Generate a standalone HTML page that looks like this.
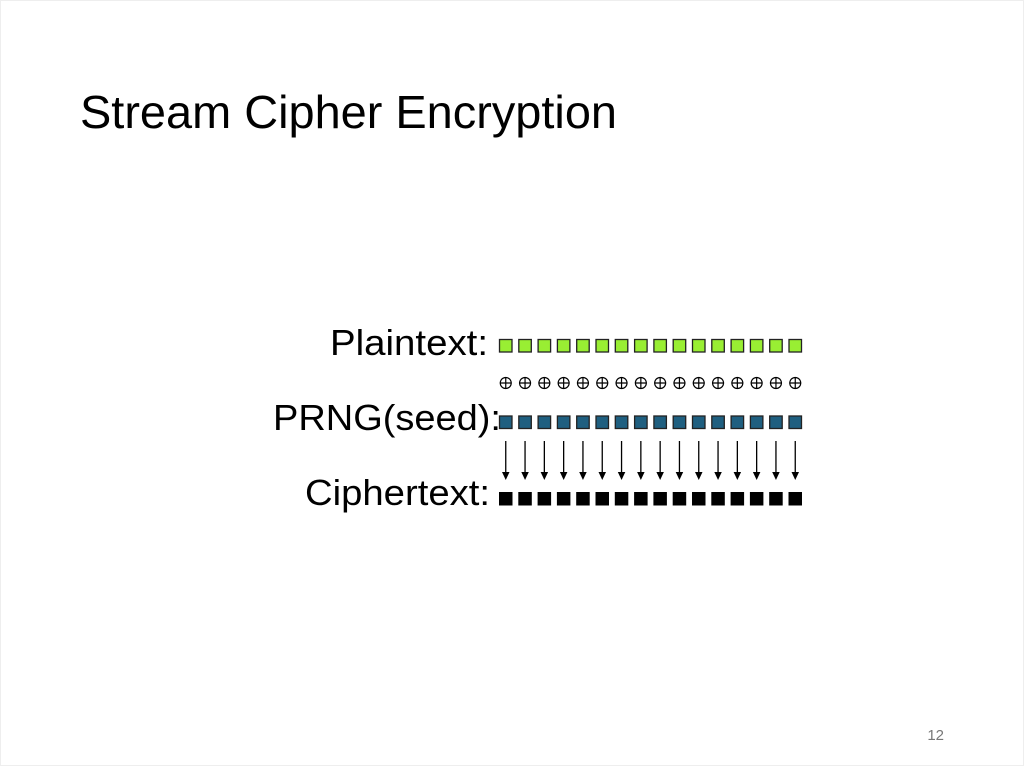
<!DOCTYPE html>
<html><head><meta charset="utf-8"><style>
html,body{margin:0;padding:0;background:#fff;}
body{width:1024px;height:767px;overflow:hidden;}
svg{display:block;}
text{font-family:"Liberation Sans",Arial,sans-serif;}
</style></head><body>
<svg width="1024" height="767" viewBox="0 0 1024 767" xmlns="http://www.w3.org/2000/svg">
<rect x="0.5" y="0.5" width="1023" height="765" fill="#fff" stroke="#eeeeee"/>
<text x="80" y="128" font-size="46" fill="#000" textLength="537" lengthAdjust="spacingAndGlyphs">Stream Cipher Encryption</text>
<text x="330" y="355" font-size="36" fill="#000" textLength="158" lengthAdjust="spacingAndGlyphs">Plaintext:</text>
<text x="273" y="430" font-size="36" fill="#000" textLength="228" lengthAdjust="spacingAndGlyphs">PRNG(seed):</text>
<text x="305" y="505" font-size="36" fill="#000" textLength="185" lengthAdjust="spacingAndGlyphs">Ciphertext:</text>
<text x="944" y="740" font-size="15" text-anchor="end" fill="#777">12</text>
<g fill="#99ee33" stroke="#222" stroke-width="1.3">
<rect x="499.5" y="339.5" width="12.5" height="12.5"/>
<rect x="518.8" y="339.5" width="12.5" height="12.5"/>
<rect x="538.1" y="339.5" width="12.5" height="12.5"/>
<rect x="557.4" y="339.5" width="12.5" height="12.5"/>
<rect x="576.7" y="339.5" width="12.5" height="12.5"/>
<rect x="596.0" y="339.5" width="12.5" height="12.5"/>
<rect x="615.3" y="339.5" width="12.5" height="12.5"/>
<rect x="634.6" y="339.5" width="12.5" height="12.5"/>
<rect x="653.9" y="339.5" width="12.5" height="12.5"/>
<rect x="673.2" y="339.5" width="12.5" height="12.5"/>
<rect x="692.5" y="339.5" width="12.5" height="12.5"/>
<rect x="711.8" y="339.5" width="12.5" height="12.5"/>
<rect x="731.1" y="339.5" width="12.5" height="12.5"/>
<rect x="750.4" y="339.5" width="12.5" height="12.5"/>
<rect x="769.7" y="339.5" width="12.5" height="12.5"/>
<rect x="789.0" y="339.5" width="12.5" height="12.5"/>
</g>
<g fill="none" stroke="#000" stroke-width="1.2">
<g transform="translate(505.75,383)"><circle r="5.5"/><path d="M-5.5 0H5.5M0 -5.5V5.5"/></g>
<g transform="translate(525.05,383)"><circle r="5.5"/><path d="M-5.5 0H5.5M0 -5.5V5.5"/></g>
<g transform="translate(544.35,383)"><circle r="5.5"/><path d="M-5.5 0H5.5M0 -5.5V5.5"/></g>
<g transform="translate(563.65,383)"><circle r="5.5"/><path d="M-5.5 0H5.5M0 -5.5V5.5"/></g>
<g transform="translate(582.95,383)"><circle r="5.5"/><path d="M-5.5 0H5.5M0 -5.5V5.5"/></g>
<g transform="translate(602.25,383)"><circle r="5.5"/><path d="M-5.5 0H5.5M0 -5.5V5.5"/></g>
<g transform="translate(621.55,383)"><circle r="5.5"/><path d="M-5.5 0H5.5M0 -5.5V5.5"/></g>
<g transform="translate(640.85,383)"><circle r="5.5"/><path d="M-5.5 0H5.5M0 -5.5V5.5"/></g>
<g transform="translate(660.15,383)"><circle r="5.5"/><path d="M-5.5 0H5.5M0 -5.5V5.5"/></g>
<g transform="translate(679.45,383)"><circle r="5.5"/><path d="M-5.5 0H5.5M0 -5.5V5.5"/></g>
<g transform="translate(698.75,383)"><circle r="5.5"/><path d="M-5.5 0H5.5M0 -5.5V5.5"/></g>
<g transform="translate(718.05,383)"><circle r="5.5"/><path d="M-5.5 0H5.5M0 -5.5V5.5"/></g>
<g transform="translate(737.35,383)"><circle r="5.5"/><path d="M-5.5 0H5.5M0 -5.5V5.5"/></g>
<g transform="translate(756.65,383)"><circle r="5.5"/><path d="M-5.5 0H5.5M0 -5.5V5.5"/></g>
<g transform="translate(775.95,383)"><circle r="5.5"/><path d="M-5.5 0H5.5M0 -5.5V5.5"/></g>
<g transform="translate(795.25,383)"><circle r="5.5"/><path d="M-5.5 0H5.5M0 -5.5V5.5"/></g>
</g>
<g fill="#1f5f80" stroke="#222" stroke-width="1.3">
<rect x="499.5" y="416" width="12.5" height="12.5"/>
<rect x="518.8" y="416" width="12.5" height="12.5"/>
<rect x="538.1" y="416" width="12.5" height="12.5"/>
<rect x="557.4" y="416" width="12.5" height="12.5"/>
<rect x="576.7" y="416" width="12.5" height="12.5"/>
<rect x="596.0" y="416" width="12.5" height="12.5"/>
<rect x="615.3" y="416" width="12.5" height="12.5"/>
<rect x="634.6" y="416" width="12.5" height="12.5"/>
<rect x="653.9" y="416" width="12.5" height="12.5"/>
<rect x="673.2" y="416" width="12.5" height="12.5"/>
<rect x="692.5" y="416" width="12.5" height="12.5"/>
<rect x="711.8" y="416" width="12.5" height="12.5"/>
<rect x="731.1" y="416" width="12.5" height="12.5"/>
<rect x="750.4" y="416" width="12.5" height="12.5"/>
<rect x="769.7" y="416" width="12.5" height="12.5"/>
<rect x="789.0" y="416" width="12.5" height="12.5"/>
</g>
<g stroke="#000" stroke-width="1.3" fill="#000">
<path d="M505.75 441V474"/><path d="M502 472L505.75 480L509.5 472Z" stroke="none"/>
<path d="M525.05 441V474"/><path d="M521.3 472L525.05 480L528.8 472Z" stroke="none"/>
<path d="M544.35 441V474"/><path d="M540.6 472L544.35 480L548.1 472Z" stroke="none"/>
<path d="M563.65 441V474"/><path d="M559.9 472L563.65 480L567.4 472Z" stroke="none"/>
<path d="M582.95 441V474"/><path d="M579.2 472L582.95 480L586.7 472Z" stroke="none"/>
<path d="M602.25 441V474"/><path d="M598.5 472L602.25 480L606 472Z" stroke="none"/>
<path d="M621.55 441V474"/><path d="M617.8 472L621.55 480L625.3 472Z" stroke="none"/>
<path d="M640.85 441V474"/><path d="M637.1 472L640.85 480L644.6 472Z" stroke="none"/>
<path d="M660.15 441V474"/><path d="M656.4 472L660.15 480L663.9 472Z" stroke="none"/>
<path d="M679.45 441V474"/><path d="M675.7 472L679.45 480L683.2 472Z" stroke="none"/>
<path d="M698.75 441V474"/><path d="M695 472L698.75 480L702.5 472Z" stroke="none"/>
<path d="M718.05 441V474"/><path d="M714.3 472L718.05 480L721.8 472Z" stroke="none"/>
<path d="M737.35 441V474"/><path d="M733.6 472L737.35 480L741.1 472Z" stroke="none"/>
<path d="M756.65 441V474"/><path d="M752.9 472L756.65 480L760.4 472Z" stroke="none"/>
<path d="M775.95 441V474"/><path d="M772.2 472L775.95 480L779.7 472Z" stroke="none"/>
<path d="M795.25 441V474"/><path d="M791.5 472L795.25 480L799 472Z" stroke="none"/>
</g>
<g fill="#000">
<rect x="499" y="492" width="13.5" height="13.5"/>
<rect x="518.3" y="492" width="13.5" height="13.5"/>
<rect x="537.6" y="492" width="13.5" height="13.5"/>
<rect x="556.9" y="492" width="13.5" height="13.5"/>
<rect x="576.2" y="492" width="13.5" height="13.5"/>
<rect x="595.5" y="492" width="13.5" height="13.5"/>
<rect x="614.8" y="492" width="13.5" height="13.5"/>
<rect x="634.1" y="492" width="13.5" height="13.5"/>
<rect x="653.4" y="492" width="13.5" height="13.5"/>
<rect x="672.7" y="492" width="13.5" height="13.5"/>
<rect x="692.0" y="492" width="13.5" height="13.5"/>
<rect x="711.3" y="492" width="13.5" height="13.5"/>
<rect x="730.6" y="492" width="13.5" height="13.5"/>
<rect x="749.9" y="492" width="13.5" height="13.5"/>
<rect x="769.2" y="492" width="13.5" height="13.5"/>
<rect x="788.5" y="492" width="13.5" height="13.5"/>
</g>
</svg>
</body></html>
